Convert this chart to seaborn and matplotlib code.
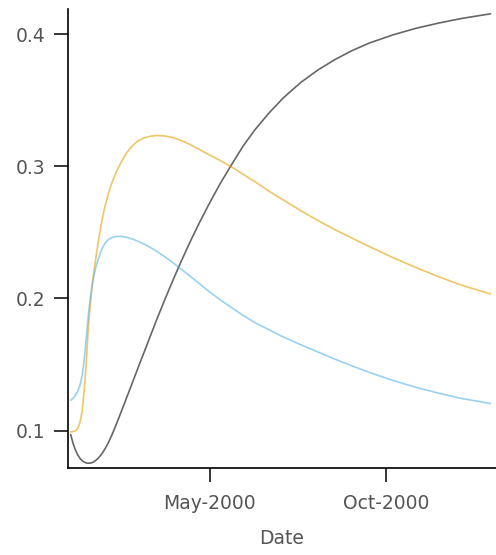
import numpy as np
import pandas as pd
import matplotlib
matplotlib.use("Agg")
import matplotlib.pyplot as plt
import seaborn as sns

# Day offsets from 2000-01-01
days = [0, 2, 4, 6, 8, 10, 11, 12, 13, 14, 15, 16, 17, 18, 19, 20, 22, 24, 26, 28, 30,
        33, 36, 40, 44, 48, 53, 58, 63, 69, 75, 82, 89, 96, 104, 112, 120, 130, 140,
        150, 160, 172, 185, 200, 215, 230, 245, 260, 280, 300, 320, 340, 365]

black_vals = [0.0970, 0.0905, 0.0855, 0.0818, 0.0790, 0.0772,
              0.0766, 0.0761, 0.0757, 0.0754, 0.0753, 0.0753, 0.0754, 0.0756, 0.0759, 0.0763,
              0.0776, 0.0792, 0.0812, 0.0836, 0.0864,
              0.0913, 0.0970, 0.1055, 0.1145, 0.1235,
              0.1348, 0.1462, 0.1575, 0.1710, 0.1845,
              0.1995, 0.2140, 0.2280, 0.2432, 0.2575,
              0.2710, 0.2870, 0.3015, 0.3155, 0.3275,
              0.3400, 0.3520, 0.3635, 0.3730, 0.3810,
              0.3878, 0.3935, 0.3995, 0.4045, 0.4085,
              0.4120, 0.4155]

orange_vals = [0.0990, 0.0992, 0.0998, 0.1012, 0.1060, 0.1150,
               0.1230, 0.1330, 0.1450, 0.1580, 0.1730, 0.1850, 0.1950, 0.2040, 0.2120, 0.2190,
               0.2315, 0.2430, 0.2535, 0.2625, 0.2705,
               0.2800, 0.2880, 0.2965, 0.3035, 0.3095,
               0.3150, 0.3190, 0.3213, 0.3228, 0.3234,
               0.3230, 0.3218, 0.3196, 0.3165, 0.3128,
               0.3090, 0.3045, 0.2995, 0.2940, 0.2885,
               0.2815, 0.2745, 0.2665, 0.2590, 0.2520,
               0.2455, 0.2392, 0.2310, 0.2235, 0.2165,
               0.2100, 0.2035]

blue_vals = [0.1230, 0.1245, 0.1265, 0.1295, 0.1340, 0.1420,
             0.1480, 0.1560, 0.1650, 0.1745, 0.1840, 0.1925, 0.2000, 0.2065, 0.2120, 0.2165,
             0.2240, 0.2300, 0.2350, 0.2390, 0.2420,
             0.2448, 0.2462, 0.2470, 0.2470, 0.2465,
             0.2452, 0.2435, 0.2415, 0.2388, 0.2356,
             0.2315, 0.2270, 0.2222, 0.2168, 0.2112,
             0.2055, 0.1990, 0.1930, 0.1872, 0.1818,
             0.1765, 0.1708, 0.1650, 0.1595, 0.1540,
             0.1488, 0.1440, 0.1380, 0.1328, 0.1283,
             0.1243, 0.1205]

series_names = ["black", "orange", "blue"]
series_colors = ["#000000", "#E69F00", "#56B4E9"]
tick_dates = ["2000-05-01", "2000-10-01"]
tick_labels = ["May-2000", "Oct-2000"]
ytick_vals = [0.1, 0.2, 0.3, 0.4]

start = pd.Timestamp("2000-01-01")
dates = [start + pd.Timedelta(days=d) for d in days]
df = pd.concat([
    pd.DataFrame({"Date": dates, "value": v, "series": n})
    for n, v in zip(series_names, [black_vals, orange_vals, blue_vals])
], ignore_index=True)

sns.set_style("ticks")
plt.rcParams["font.family"] = ["DejaVu Sans"]

fig = plt.figure(figsize=(4.96, 5.55), dpi=100)
ax = fig.add_axes([0.1365, 0.1568, 0.8635, 0.8264])

sns.lineplot(data=df, x="Date", y="value", hue="series",
             palette=dict(zip(series_names, series_colors)),
             hue_order=series_names, linewidth=1.2, alpha=0.6,
             legend=False, ax=ax)

ax.set_xlim(start - pd.Timedelta(days=2.6), start + pd.Timedelta(days=369.8))
ax.set_ylim(0.0717, 0.4189)
ax.set_xticks([pd.Timestamp(t) for t in tick_dates])
ax.set_xticklabels(tick_labels)
ax.set_yticks(ytick_vals)
ax.set_yticklabels([f"{v:.1f}" for v in ytick_vals])

txt_color = "#555555"
ax.tick_params(axis="both", length=10, width=1.1, color="black",
               labelsize=13.5, labelcolor=txt_color)
ax.tick_params(axis="y", pad=6)
ax.tick_params(axis="x", pad=9)
ax.set_xlabel("Date", fontsize=13.5, color=txt_color, labelpad=11)
ax.set_ylabel("")
for s in ["top", "right"]:
    ax.spines[s].set_visible(False)
for s in ["left", "bottom"]:
    ax.spines[s].set_linewidth(1.2)
    ax.spines[s].set_color("black")

fig.savefig("out.png", dpi=100)
